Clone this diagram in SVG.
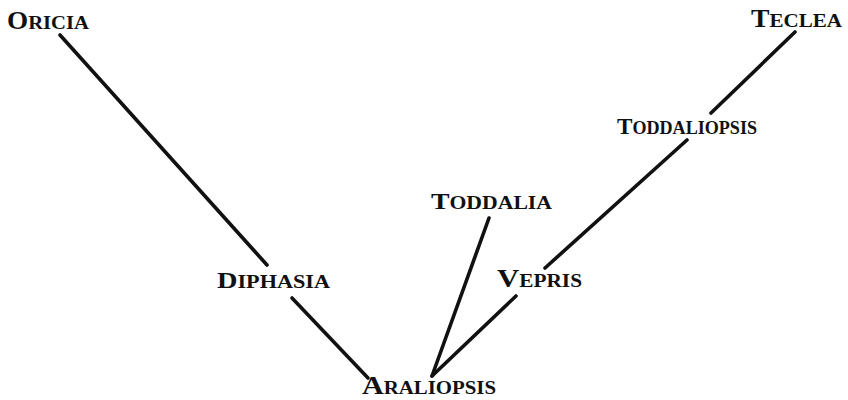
<svg xmlns="http://www.w3.org/2000/svg" width="848" height="400" viewBox="0 0 848 400">
<style>
text{font-family:"Liberation Serif","DejaVu Serif",serif;font-weight:bold;fill:#111;}
.b{font-size:23px;}
.s{font-size:18px;}
.lg .b{font-size:25px;}
.lg .s{font-size:19px;}
.tall .b{font-size:26px;}
.edge{stroke:#111;stroke-width:3.6;stroke-linecap:round;fill:none;}
</style>
<rect width="848" height="400" fill="#fff"/>
<g id="connectors">
<line class="edge" x1="60" y1="35" x2="267" y2="265"/>
<line class="edge" x1="292" y1="298" x2="368" y2="378"/>
<line class="edge" x1="795" y1="32" x2="711" y2="113"/>
<line class="edge" x1="687" y1="140" x2="545" y2="268"/>
<line class="edge" x1="516" y1="296" x2="432" y2="376"/>
<line class="edge" x1="489" y1="218" x2="432" y2="376"/>
</g>
<g id="oricia" class="lg"><text x="7" y="29" textLength="82" lengthAdjust="spacingAndGlyphs"><tspan class="b">O</tspan><tspan class="s">RICIA</tspan></text></g>
<g id="teclea" class="lg"><text x="751" y="27" textLength="91" lengthAdjust="spacingAndGlyphs"><tspan class="b">T</tspan><tspan class="s">ECLEA</tspan></text></g>
<g id="toddaliopsis"><text x="617" y="134" textLength="140" lengthAdjust="spacingAndGlyphs"><tspan class="b">T</tspan><tspan class="s">ODDALIOPSIS</tspan></text></g>
<g id="toddalia"><text x="431" y="209" textLength="121" lengthAdjust="spacingAndGlyphs"><tspan class="b">T</tspan><tspan class="s">ODDALIA</tspan></text></g>
<g id="diphasia"><text x="217" y="288" textLength="113" lengthAdjust="spacingAndGlyphs"><tspan class="b">D</tspan><tspan class="s">IPHASIA</tspan></text></g>
<g id="vepris" class="tall"><text x="497" y="287" textLength="85" lengthAdjust="spacingAndGlyphs"><tspan class="b">V</tspan><tspan class="s">EPRIS</tspan></text></g>
<g id="araliopsis" class="tall"><text x="362" y="394" textLength="134" lengthAdjust="spacingAndGlyphs"><tspan class="b">A</tspan><tspan class="s">RALIOPSIS</tspan></text></g>
</svg>
